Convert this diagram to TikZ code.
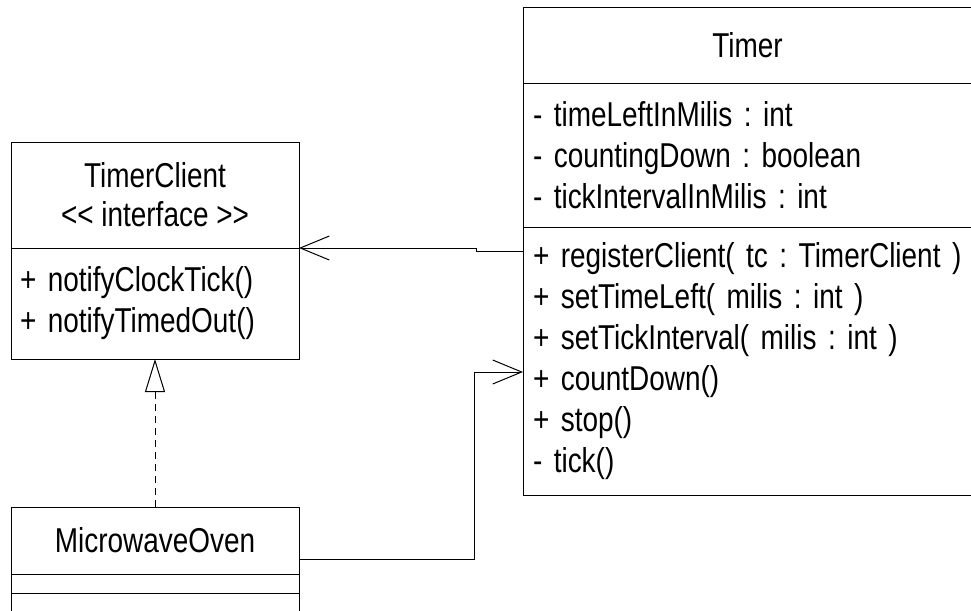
\documentclass[tikz,border=0pt]{standalone}
\usepackage{fontspec}
\setmainfont{Liberation Sans}[Ligatures=TeXOff,FakeStretch=0.81]
\usetikzlibrary{calc}
\usetikzlibrary{arrows.meta}

\begin{document}
\frenchspacing
\begin{tikzpicture}[x=1pt,y=-1pt,line width=1pt,font=\fontsize{34.5}{41}\selectfont]
	\tikzstyle{part}=[draw,rectangle,anchor=north west,inner xsep=9pt,inner ysep=0pt,outer sep=0pt];
	\tikzstyle{list}=[part,align=left];
	\tikzstyle{assoc}=[-{Straight Barb[length=29pt,width=24pt]}];
	\tikzstyle{realize}=[dash pattern=on 7pt off 5pt,-{Triangle[open,length=33pt,width=20pt,fill=white]}];
	\newcommand{\tcwidth}{288pt}
	\newcommand{\tmwidth}{449pt}
	%%
	\useasboundingbox (0,0) rectangle (971,610);
	\clip (0,0) rectangle (971,610);
	%%
	\node[part,minimum width=\tmwidth,minimum height=75pt] (timer) at (523,8) {Timer};
	\node[list,inner xsep=10pt,text width=429pt,minimum height=144pt] (timerattr) at (timer.south west)
		{- timeLeftInMilis : int\\- countingDown : boolean\\- tickIntervalInMilis : int};
	\node[list,inner xsep=10pt,text width=429pt,minimum height=268pt] (timerops) at (timerattr.south west)
		{+ registerClient( tc : TimerClient )\\+ setTimeLeft( milis : int )\\+ setTickInterval( milis : int )\\+ countDown()\\+ stop()\\- tick()};
	%%
	\node[part,align=center,minimum width=\tcwidth,minimum height=106pt] (tcname) at (11,142)
		{TimerClient\\[-2pt]<< interface >>};
	\node[list,text width=270pt,minimum height=111pt] (tcops) at (tcname.south west)
		{+ notifyClockTick()\\+ notifyTimedOut()};
	%%
	\node[part,minimum width=\tcwidth,minimum height=67pt] (mwname) at (11,507) {MicrowaveOven};
	\node[part,minimum width=\tcwidth,minimum height=19pt] (mwattr) at (mwname.south west) {};
	\node[part,minimum width=\tcwidth,minimum height=19pt] (mwops) at (mwattr.south west) {};
	%%
	\draw[assoc] ($(timerops.north west)+(0,24)$) -- ++(-47,0) |- (tcops.north east);
	\draw[assoc] ($(mwname.south east)+(0,-15)$) -| ($(timerops.north west)+(-49,145)$)
		-- ($(timerops.north west)+(0,145)$);
	\draw[realize] (mwname.north) -- (tcops.south);
\end{tikzpicture}
\end{document}
